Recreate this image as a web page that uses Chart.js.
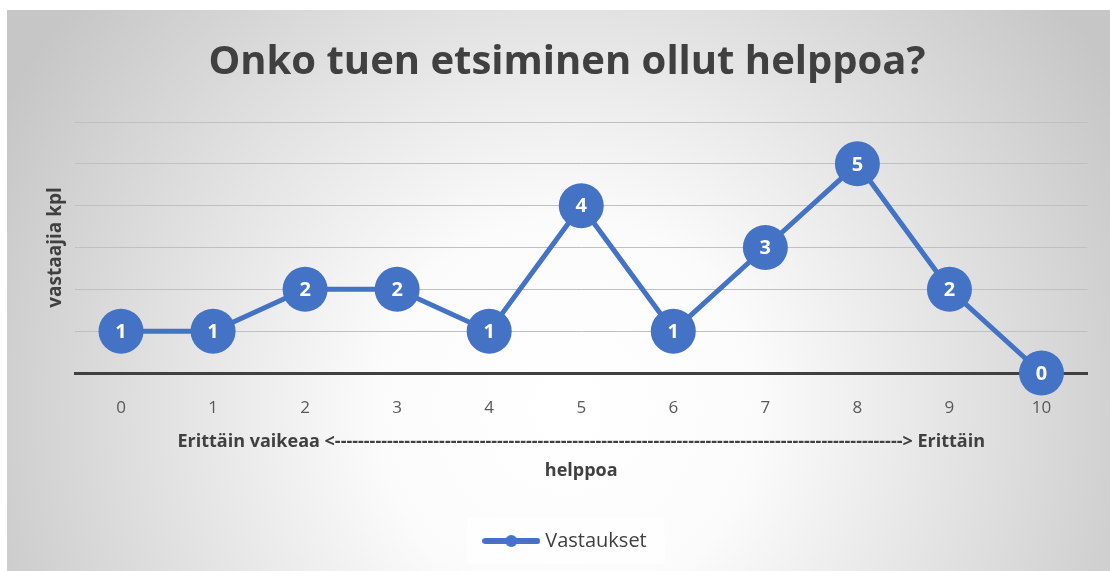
<!DOCTYPE html>
<html>
<head>
<meta charset="utf-8">
<script src="https://cdn.jsdelivr.net/npm/chart.js@4.4.0/dist/chart.umd.min.js"></script>
<style>
  body { margin: 0; background: #fff; }
  #wrap { position: absolute; left: 7px; top: 10px; }
</style>
</head>
<body>
<div id="wrap"><canvas id="myChart" width="1103" height="561"></canvas></div>
<script>
const labels = ['0', '1', '2', '3', '4', '5', '6', '7', '8', '9', '10'];
const vastaukset = [1, 1, 2, 2, 1, 4, 1, 3, 5, 2, 0];
const seriesName = 'Vastaukset';
const chartTitle = 'Onko tuen etsiminen ollut helppoa?';
const yTitle = 'vastaajia kpl';
const xTitle = ['Erittäin vaikeaa <' + '-'.repeat(98) + '> Erittäin', 'helppoa'];

const blue = '#4472C4';
const textCol = '#404040';
const FONT = '"Open Sans", sans-serif';

// legend sample: line with a dot
const sample = document.createElement('canvas');
sample.width = 58; sample.height = 14;
(function () {
  const c = sample.getContext('2d');
  c.strokeStyle = blue; c.lineWidth = 6; c.lineCap = 'round';
  c.beginPath(); c.moveTo(3, 7); c.lineTo(55, 7); c.stroke();
  c.fillStyle = blue;
  c.beginPath(); c.arc(29, 7, 6, 0, Math.PI * 2); c.fill();
})();

const bgPlugin = {
  id: 'bg',
  beforeDraw(chart) {
    const ctx = chart.ctx;
    const w = chart.width, h = chart.height;
    ctx.save();
    const g = ctx.createRadialGradient(560, 400, 0, 560, 400, 640);
    g.addColorStop(0, '#ffffff');
    g.addColorStop(0.3, '#fbfbfb');
    g.addColorStop(1, '#c6c6c6');
    ctx.fillStyle = g;
    ctx.fillRect(0, 0, w, h);
    // light box behind the legend
    const lg = chart.legend;
    if (lg && lg.legendHitBoxes && lg.legendHitBoxes.length) {
      const hb = lg.legendHitBoxes[0];
      ctx.fillStyle = 'rgba(255,255,255,0.55)';
      ctx.fillRect(hb.left - 20, hb.top + hb.height / 2 - 23, hb.width + 38, 46);
    }
    ctx.restore();
  }
};

const valueLabels = {
  id: 'valueLabels',
  afterDatasetsDraw(chart) {
    const ctx = chart.ctx;
    const meta = chart.getDatasetMeta(0);
    ctx.save();
    ctx.fillStyle = '#ffffff';
    ctx.font = 'bold 20px ' + FONT;
    ctx.textAlign = 'center';
    ctx.textBaseline = 'middle';
    meta.data.forEach((p, i) => {
      ctx.fillText(String(vastaukset[i]), p.x, p.y + 1);
    });
    ctx.restore();
  }
};

const cfg = {
  type: 'line',
  data: {
    labels: labels,
    datasets: [{
      label: seriesName,
      data: vastaukset,
      borderColor: blue,
      backgroundColor: blue,
      borderWidth: 5,
      pointRadius: 22.5,
      pointHoverRadius: 22.5,
      pointBorderWidth: 0,
      pointBackgroundColor: blue,
      tension: 0,
      clip: false
    }]
  },
  options: {
    responsive: false,
    animation: false,
    events: [],
    layout: { padding: { left: 34, right: 17, top: 0, bottom: 10 } },
    scales: {
      x: {
        offset: true,
        grid: { display: false, drawTicks: false },
        border: { display: true, color: '#404040', width: 3 },
        ticks: { color: '#595959', font: { family: FONT, size: 17 }, padding: 25 },
        title: {
          display: true,
          text: xTitle,
          color: textCol,
          font: { family: FONT, size: 18, weight: 'bold', lineHeight: 1.61 },
          padding: { top: 12, bottom: 34 }
        },
        afterFit(scale) { scale.height = 146; }
      },
      y: {
        min: 0,
        max: 6,
        ticks: { display: false, stepSize: 1 },
        grid: {
          drawTicks: false,
          color: (c) => c.tick && c.tick.value === 0 ? 'rgba(0,0,0,0)' : '#c0c0c0',
          lineWidth: 1
        },
        border: { display: false },
        title: {
          display: true,
          text: yTitle,
          color: textCol,
          font: { family: FONT, size: 19, weight: 'bold', lineHeight: 1.2 },
          padding: { top: 3, bottom: 0 }
        },
        afterFit(scale) { scale.width = 34; }
      }
    },
    plugins: {
      title: {
        display: true,
        text: chartTitle,
        color: textCol,
        font: { family: FONT, size: 40, weight: 'bold', lineHeight: 1.2 },
        padding: { top: 29, bottom: 35 }
      },
      legend: {
        position: 'bottom',
        labels: {
          usePointStyle: true,
          pointStyle: sample,
          pointStyleWidth: 48,
          color: textCol,
          font: { family: FONT, size: 20 },
          padding: 12
        }
      },
      tooltip: { enabled: false }
    }
  },
  plugins: [bgPlugin, valueLabels]
};

const ctx = document.getElementById('myChart');
new Chart(ctx, cfg);
</script>
</body>
</html>
